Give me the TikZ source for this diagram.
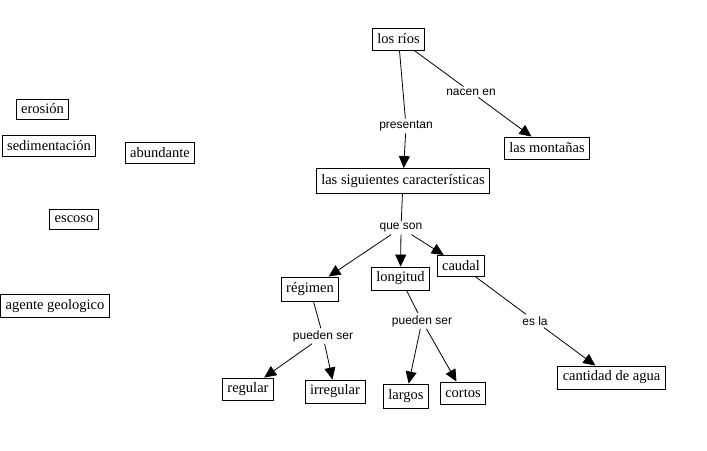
\documentclass[tikz,border=0pt]{standalone}
\usepackage{fontspec}
\setmainfont{Liberation Serif}
\newfontfamily\lblfont{Liberation Sans}
\usetikzlibrary{arrows.meta}
\begin{document}
\begin{tikzpicture}[x=1pt,y=-1pt,
  concept/.style={draw,line width=0.9pt,inner xsep=5pt,inner ysep=0pt,minimum height=22pt,font=\fontsize{14.5}{17}\selectfont},
  lbl/.style={inner sep=2pt,font=\lblfont\fontsize{12}{14}\selectfont},
  plain/.style={line width=0.8pt},
  arr/.style={line width=0.8pt,-{Triangle[length=12pt,width=11pt]}}]
\useasboundingbox (0,0) rectangle (707,450);
% nodes
\node[concept] (rios) at (398.5,39) {los ríos};
\node[concept] (mont) at (547,148) {las montañas};
\node[concept,minimum height=25pt] (sig) at (403,181) {las siguientes características};
\node[concept,minimum height=20pt] (eros) at (42.5,109) {erosión};
\node[concept,minimum height=21pt] (sed) at (49,146) {sedimentación};
\node[concept,minimum height=21pt] (abun) at (160,153) {abundante};
\node[concept,minimum height=20pt] (esc) at (74,219) {escoso};
\node[concept,minimum height=23pt] (agen) at (55,306) {agente geologico};
\node[concept,minimum height=24pt] (reg) at (310,289) {régimen};
\node[concept,minimum height=23pt] (lon) at (400.5,278.5) {longitud};
\node[concept,minimum height=21pt] (cau) at (461,266) {caudal};
\node[concept] (regu) at (248,389) {regular};
\node[concept,minimum height=23pt] (irr) at (335,391.5) {irregular};
\node[concept,minimum height=24pt] (lar) at (406,396) {largos};
\node[concept] (cor) at (463,393) {cortos};
\node[concept,minimum height=23pt] (cant) at (611.5,377.5) {cantidad de agua};
% labels
\node[lbl] (presentan) at (406,126) {presentan};
\node[lbl] (nacen) at (471,92) {nacen en};
\node[lbl] (queson) at (401,228) {que son};
\node[lbl] (pueden1) at (323,336) {pueden ser};
\node[lbl] (pueden2) at (422,321) {pueden ser};
\node[lbl] (esla) at (535,321) {es la};
% connectors
\draw[plain] (rios) -- (presentan);
\draw[arr] (presentan) -- (sig);
\draw[plain] (rios) -- (nacen);
\draw[arr] (nacen) -- (mont);
\draw[plain] (sig) -- (queson);
\draw[arr] (queson) -- (reg);
\draw[arr] (queson) -- (lon);
\draw[arr] (queson) -- (cau);
\draw[plain] (reg) -- (pueden1);
\draw[arr] (pueden1) -- (regu);
\draw[arr] (pueden1) -- (irr);
\draw[plain] (lon) -- (pueden2);
\draw[arr] (pueden2) -- (lar);
\draw[arr] (pueden2) -- (cor);
\draw[plain] (cau) -- (esla);
\draw[arr] (esla) -- (cant);
\end{tikzpicture}
\end{document}
